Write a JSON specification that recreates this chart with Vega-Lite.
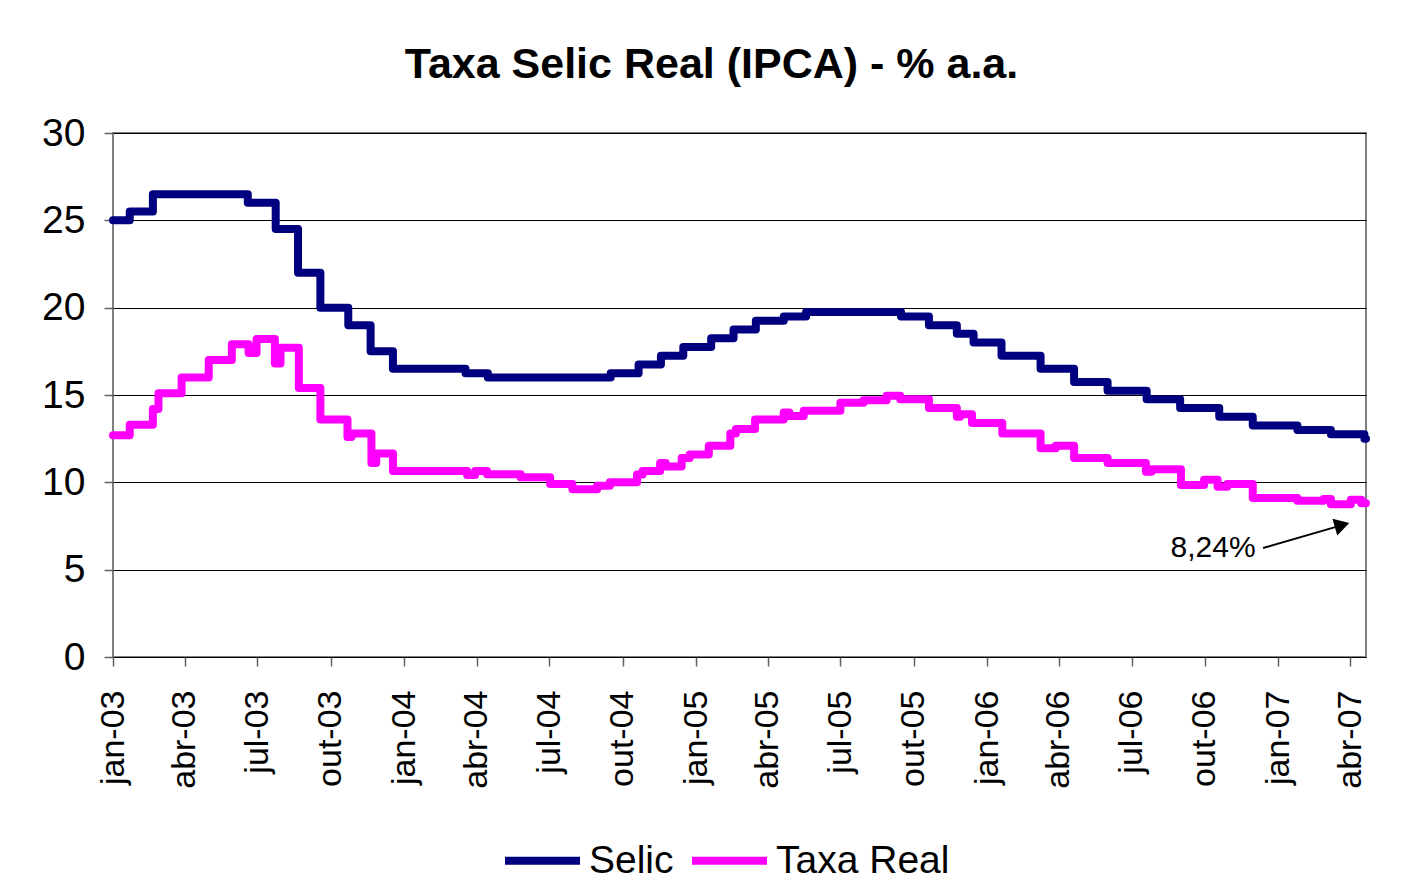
{
  "$schema": "https://vega.github.io/schema/vega-lite/v6.json",
  "width": 1253,
  "height": 524,
  "autosize": {"type": "none"},
  "padding": {"left": 113, "top": 133, "right": 42, "bottom": 238},
  "background": "white",
  "title": {
    "text": "Taxa Selic Real (IPCA) - % a.a.",
    "font": "Liberation Sans",
    "fontSize": 43,
    "fontWeight": "bold",
    "color": "black",
    "anchor": "middle",
    "dx": -28,
    "baseline": "alphabetic",
    "offset": -7
  },
  "config": {
    "view": {"stroke": "#808080", "strokeWidth": 2},
    "font": "Liberation Sans"
  },
  "encoding": {
    "x": {
      "field": "d",
      "type": "temporal",
      "scale": {"domain": [{"year": 2003, "month": 1, "date": 1}, {"year": 2007, "month": 4, "date": 21}]},
      "axis": {
        "title": null,
        "grid": false,
        "domain": false,
        "tickCount": {"interval": "month", "step": 3},
        "labelExpr": "['jan','fev','mar','abr','mai','jun','jul','ago','set','out','nov','dez'][month(datum.value)] + '-' + timeFormat(datum.value, '%y')",
        "labelAngle": 270,
        "labelFontSize": 34,
        "labelFont": "Liberation Sans",
        "labelColor": "black",
        "labelPadding": 24,
        "tickSize": 9,
        "tickColor": "#606060",
        "tickWidth": 1.5,
        "labelOverlap": false,
        "labelFlush": false,
        "labelBound": false
      }
    },
    "y": {
      "field": "v",
      "type": "quantitative",
      "scale": {"domain": [0, 30], "nice": false},
      "axis": {
        "title": null,
        "values": [0, 5, 10, 15, 20, 25, 30],
        "grid": true,
        "gridColor": "black",
        "gridWidth": 1,
        "gridOpacity": 1,
        "domain": false,
        "tickSize": 9,
        "tickColor": "#606060",
        "tickWidth": 1.5,
        "labelFontSize": 39,
        "labelFont": "Liberation Sans",
        "labelColor": "black",
        "labelPadding": 19
      }
    }
  },
  "layer": [
    {
      "data": {
        "values": [
          {"d": "2003-01-01T00:00:00", "s": "Selic", "v": 25.0},
          {"d": "2003-01-22T00:00:00", "s": "Selic", "v": 25.5},
          {"d": "2003-02-20T00:00:00", "s": "Selic", "v": 26.5},
          {"d": "2003-06-19T00:00:00", "s": "Selic", "v": 26.0},
          {"d": "2003-07-24T00:00:00", "s": "Selic", "v": 24.5},
          {"d": "2003-08-21T00:00:00", "s": "Selic", "v": 22.0},
          {"d": "2003-09-18T00:00:00", "s": "Selic", "v": 20.0},
          {"d": "2003-10-23T00:00:00", "s": "Selic", "v": 19.0},
          {"d": "2003-11-20T00:00:00", "s": "Selic", "v": 17.5},
          {"d": "2003-12-18T00:00:00", "s": "Selic", "v": 16.5},
          {"d": "2004-03-18T00:00:00", "s": "Selic", "v": 16.25},
          {"d": "2004-04-15T00:00:00", "s": "Selic", "v": 16.0},
          {"d": "2004-09-16T00:00:00", "s": "Selic", "v": 16.25},
          {"d": "2004-10-21T00:00:00", "s": "Selic", "v": 16.75},
          {"d": "2004-11-18T00:00:00", "s": "Selic", "v": 17.25},
          {"d": "2004-12-16T00:00:00", "s": "Selic", "v": 17.75},
          {"d": "2005-01-20T00:00:00", "s": "Selic", "v": 18.25},
          {"d": "2005-02-17T00:00:00", "s": "Selic", "v": 18.75},
          {"d": "2005-03-17T00:00:00", "s": "Selic", "v": 19.25},
          {"d": "2005-04-21T00:00:00", "s": "Selic", "v": 19.5},
          {"d": "2005-05-19T00:00:00", "s": "Selic", "v": 19.75},
          {"d": "2005-09-15T00:00:00", "s": "Selic", "v": 19.5},
          {"d": "2005-10-20T00:00:00", "s": "Selic", "v": 19.0},
          {"d": "2005-11-24T00:00:00", "s": "Selic", "v": 18.5},
          {"d": "2005-12-15T00:00:00", "s": "Selic", "v": 18.0},
          {"d": "2006-01-19T00:00:00", "s": "Selic", "v": 17.25},
          {"d": "2006-03-09T00:00:00", "s": "Selic", "v": 16.5},
          {"d": "2006-04-20T00:00:00", "s": "Selic", "v": 15.75},
          {"d": "2006-06-01T00:00:00", "s": "Selic", "v": 15.25},
          {"d": "2006-07-20T00:00:00", "s": "Selic", "v": 14.75},
          {"d": "2006-08-31T00:00:00", "s": "Selic", "v": 14.25},
          {"d": "2006-10-19T00:00:00", "s": "Selic", "v": 13.75},
          {"d": "2006-11-30T00:00:00", "s": "Selic", "v": 13.25},
          {"d": "2007-01-25T00:00:00", "s": "Selic", "v": 13.0},
          {"d": "2007-03-08T00:00:00", "s": "Selic", "v": 12.75},
          {"d": "2007-04-19T00:00:00", "s": "Selic", "v": 12.5},
          {"d": "2007-04-21T00:00:00", "s": "Selic", "v": 12.5},
          {"d": "2003-01-01T00:00:00", "s": "Taxa Real", "v": 12.7},
          {"d": "2003-01-22T00:00:00", "s": "Taxa Real", "v": 13.3},
          {"d": "2003-02-20T00:00:00", "s": "Taxa Real", "v": 14.2},
          {"d": "2003-02-27T00:00:00", "s": "Taxa Real", "v": 15.1},
          {"d": "2003-03-28T00:00:00", "s": "Taxa Real", "v": 16.0},
          {"d": "2003-05-01T00:00:00", "s": "Taxa Real", "v": 17.0},
          {"d": "2003-05-30T00:00:00", "s": "Taxa Real", "v": 17.9},
          {"d": "2003-06-20T00:00:00", "s": "Taxa Real", "v": 17.4},
          {"d": "2003-06-30T00:00:00", "s": "Taxa Real", "v": 18.2},
          {"d": "2003-07-23T00:00:00", "s": "Taxa Real", "v": 16.8},
          {"d": "2003-07-30T00:00:00", "s": "Taxa Real", "v": 17.7},
          {"d": "2003-08-22T00:00:00", "s": "Taxa Real", "v": 15.4},
          {"d": "2003-09-18T00:00:00", "s": "Taxa Real", "v": 13.6},
          {"d": "2003-10-22T00:00:00", "s": "Taxa Real", "v": 12.6},
          {"d": "2003-10-27T00:00:00", "s": "Taxa Real", "v": 12.8},
          {"d": "2003-11-21T00:00:00", "s": "Taxa Real", "v": 11.1},
          {"d": "2003-11-27T00:00:00", "s": "Taxa Real", "v": 11.65},
          {"d": "2003-12-18T00:00:00", "s": "Taxa Real", "v": 10.65},
          {"d": "2004-03-20T00:00:00", "s": "Taxa Real", "v": 10.42},
          {"d": "2004-03-30T00:00:00", "s": "Taxa Real", "v": 10.65},
          {"d": "2004-04-14T00:00:00", "s": "Taxa Real", "v": 10.46},
          {"d": "2004-05-26T00:00:00", "s": "Taxa Real", "v": 10.29},
          {"d": "2004-07-02T00:00:00", "s": "Taxa Real", "v": 9.9},
          {"d": "2004-07-30T00:00:00", "s": "Taxa Real", "v": 9.6},
          {"d": "2004-08-30T00:00:00", "s": "Taxa Real", "v": 9.8},
          {"d": "2004-09-15T00:00:00", "s": "Taxa Real", "v": 10.0},
          {"d": "2004-10-19T00:00:00", "s": "Taxa Real", "v": 10.45},
          {"d": "2004-10-26T00:00:00", "s": "Taxa Real", "v": 10.65},
          {"d": "2004-11-17T00:00:00", "s": "Taxa Real", "v": 11.1},
          {"d": "2004-11-24T00:00:00", "s": "Taxa Real", "v": 10.9},
          {"d": "2004-12-14T00:00:00", "s": "Taxa Real", "v": 11.4},
          {"d": "2004-12-24T00:00:00", "s": "Taxa Real", "v": 11.6},
          {"d": "2005-01-17T00:00:00", "s": "Taxa Real", "v": 12.1},
          {"d": "2005-02-13T00:00:00", "s": "Taxa Real", "v": 12.8},
          {"d": "2005-02-20T00:00:00", "s": "Taxa Real", "v": 13.05},
          {"d": "2005-03-16T00:00:00", "s": "Taxa Real", "v": 13.6},
          {"d": "2005-04-21T00:00:00", "s": "Taxa Real", "v": 14.0},
          {"d": "2005-04-28T00:00:00", "s": "Taxa Real", "v": 13.8},
          {"d": "2005-05-16T00:00:00", "s": "Taxa Real", "v": 14.1},
          {"d": "2005-07-01T00:00:00", "s": "Taxa Real", "v": 14.55},
          {"d": "2005-07-30T00:00:00", "s": "Taxa Real", "v": 14.7},
          {"d": "2005-08-28T00:00:00", "s": "Taxa Real", "v": 14.95},
          {"d": "2005-09-14T00:00:00", "s": "Taxa Real", "v": 14.75},
          {"d": "2005-10-20T00:00:00", "s": "Taxa Real", "v": 14.25},
          {"d": "2005-11-24T00:00:00", "s": "Taxa Real", "v": 13.75},
          {"d": "2005-11-28T00:00:00", "s": "Taxa Real", "v": 13.9},
          {"d": "2005-12-13T00:00:00", "s": "Taxa Real", "v": 13.4},
          {"d": "2006-01-20T00:00:00", "s": "Taxa Real", "v": 12.8},
          {"d": "2006-03-09T00:00:00", "s": "Taxa Real", "v": 11.95},
          {"d": "2006-03-28T00:00:00", "s": "Taxa Real", "v": 12.1},
          {"d": "2006-04-20T00:00:00", "s": "Taxa Real", "v": 11.4},
          {"d": "2006-06-01T00:00:00", "s": "Taxa Real", "v": 11.1},
          {"d": "2006-07-19T00:00:00", "s": "Taxa Real", "v": 10.6},
          {"d": "2006-07-26T00:00:00", "s": "Taxa Real", "v": 10.75},
          {"d": "2006-09-01T00:00:00", "s": "Taxa Real", "v": 9.85},
          {"d": "2006-09-30T00:00:00", "s": "Taxa Real", "v": 10.15},
          {"d": "2006-10-17T00:00:00", "s": "Taxa Real", "v": 9.75},
          {"d": "2006-10-29T00:00:00", "s": "Taxa Real", "v": 9.9},
          {"d": "2006-11-30T00:00:00", "s": "Taxa Real", "v": 9.1},
          {"d": "2007-01-25T00:00:00", "s": "Taxa Real", "v": 8.95},
          {"d": "2007-02-27T00:00:00", "s": "Taxa Real", "v": 9.05},
          {"d": "2007-03-08T00:00:00", "s": "Taxa Real", "v": 8.75},
          {"d": "2007-04-02T00:00:00", "s": "Taxa Real", "v": 9.0},
          {"d": "2007-04-15T00:00:00", "s": "Taxa Real", "v": 8.8},
          {"d": "2007-04-21T00:00:00", "s": "Taxa Real", "v": 8.8}
        ]
      },
      "mark": {"type": "line", "interpolate": "step-after", "strokeWidth": 8, "strokeJoin": "round", "strokeCap": "round"},
      "encoding": {
        "color": {
          "field": "s",
          "type": "nominal",
          "scale": {"domain": ["Selic", "Taxa Real"], "range": ["#000080", "#FF00FF"]},
          "legend": {
            "orient": "none",
            "legendX": 388,
            "legendY": 686,
            "direction": "horizontal",
            "columns": 2,
            "title": null,
            "symbolType": "stroke",
            "symbolSize": 5625,
            "symbolStrokeWidth": 8,
            "labelFontSize": 39,
            "labelFont": "Liberation Sans",
            "labelColor": "black",
            "labelOffset": 5,
            "columnPadding": 2,
            "padding": 0,
            "labelLimit": 400
          }
        }
      }
    },
    {
      "data": {"values": [{"d": "2006-08-19T00:00:00", "v": 5.72, "t": "8,24%"}]},
      "mark": {"type": "text", "align": "left", "baseline": "alphabetic", "fontSize": 30, "font": "Liberation Sans", "color": "black"},
      "encoding": {"text": {"field": "t"}}
    },
    {
      "data": {"values": [{"d": "2006-12-13T00:00:00", "v": 6.24, "d2": "2007-03-22T00:00:00", "v2": 7.55}]},
      "mark": {"type": "rule", "color": "black", "strokeWidth": 2},
      "encoding": {"x2": {"field": "d2"}, "y2": {"field": "v2"}}
    },
    {
      "data": {"values": [{"d": "2007-03-22T00:00:00", "v": 7.55}]},
      "mark": {"type": "point", "shape": "triangle-right", "filled": true, "color": "black", "size": 300, "angle": -16, "opacity": 1},
      "encoding": {}
    }
  ]
}
